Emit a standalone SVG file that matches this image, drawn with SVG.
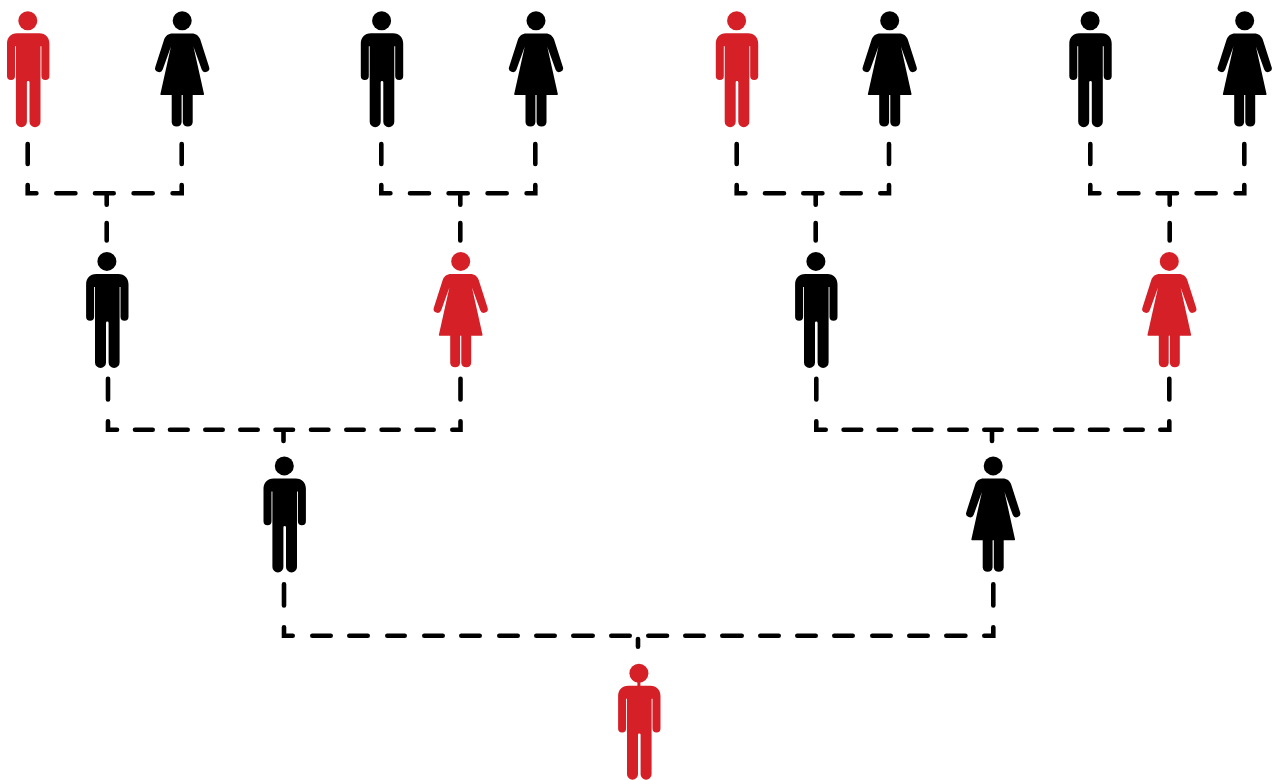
<svg xmlns="http://www.w3.org/2000/svg" xmlns:xlink="http://www.w3.org/1999/xlink" width="1278" height="780" viewBox="0 0 1278 780">
<style>
.red{fill:#d52027}.blk{fill:#000}
.c{fill:none;stroke:#000;stroke-width:4.6;stroke-linecap:round;stroke-linejoin:miter}
</style>
<defs>
<g id="man">
<circle cx="-0.4" cy="0" r="9.5"/>
<path d="M-11 12.5H11C17.5 12.5 21.2 16.8 21.2 23V55.4A4 4 0 0 1 13.2 55.4V25.5H12.3V101A5.5 5.5 0 0 1 1.3 101V61.5A1.3 1.3 0 0 0 -1.3 61.5V101A5.5 5.5 0 0 1 -12.3 101V25.5H-13.2V55.4A4 4 0 0 1 -21.2 55.4V23C-21.2 16.8 -17.500 12.5 -11 12.5Z"/>
</g>
<g id="woman">
<circle cx="0" cy="0" r="9.5"/>
<path d="M-9.500 12.7H9.500C14 12.700 16.500 15 18 18.500L26.800 46A3.900 3.900 0 0 1 19.500 48.900L11.300 26L21.800 73.300A0.800 0.800 0 0 1 21 74.300H10.500V101.500A5 5 0 0 1 0.600 101.500V74.300H-0.600V101.500A5 5 0 0 1 -10.500 101.500V74.300H-21A0.800 0.800 0 0 1 -21.800 73.300L-11.300 26L-19.500 48.900A3.900 3.900 0 0 1 -26.800 46L-18 18.500C-16.500 15 -14 12.700 -9.500 12.700Z"/>
</g>
</defs>
<g id="connectors">
<path class="c" d="M27.700 144V164M181.700 144V164M27.700 185V193.300H36.400M56.300 193.300H75.400M95 193.300H113.700M133.600 193.300H152.700M172.600 193.300H181.700V185M106.700 193.300V204.700M106.700 223V240.400"/>
<path class="c" d="M381.300 144V164M535.300 144V164M381.300 185V193.300H390.400M410 193.300H429M448.600 193.300H467.700M487.600 193.300H506.700M526.600 193.300H535.300V185M460.300 193.300V204.700M460.300 223V240.400"/>
<path class="c" d="M736.700 144V164M889 144V164M736.700 185V193.300H745.400M765 193.300H784M803.300 193.300H822.400M841.600 193.300H860.700M880.300 193.300H889V185M815.700 193.300V204.700M815.700 223V240.400"/>
<path class="c" d="M1090.300 144V164M1244.300 144V164M1090.300 185V193.300H1099.400M1119 193.300H1138.400M1157.600 193.300H1177M1196.600 193.300H1215.700M1235.600 193.300H1244.300V185M1169.700 193.300V204.700M1169.700 223V240.400"/>
<path class="c" d="M108 378.800V399.400M460.500 378.800V399.400M108 421.300V429.700H117M135 429.700H152.700M170 429.700H187.700M205.300 429.700H222.700M240.300 429.700H257.700M275.500 429.700H293M311 429.700H328.400M346.300 429.700H363.700M381.600 429.700H398.700M416.600 429.700H433.700M452.300 429.700H460.500V421.300M283.500 429.700V441"/>
<path class="c" d="M816.300 378.800V399.400M1169.300 378.800V399.400M816.300 421.300V429.700H825.700M843.600 429.700H861.200M878.600 429.700H896.200M914 429.700H931.400M949.300 429.700H966.700M984.300 429.700H1001.700M1019.300 429.700H1036.700M1055 429.700H1072.400M1090 429.700H1107.700M1125.300 429.700H1142.700M1160.300 429.700H1169.300V421.300M992 429.700V441"/>
<path class="c" d="M284 584.300V605.400M993.300 584.300V605.400M284 627.300V635.700H292.700M312.300 635.700H330.700M349.300 635.700H367.700M387.300 635.700H404.700M424.300 635.700H442.700M461.300 635.700H479.700M499.300 635.700H517.700M536.300 635.700H554.700M573.300 635.700H592.700M611.300 635.700H629.700M648.300 635.700H667M685.300 635.700H703.700M722.300 635.700H741.700M760.300 635.700H778.700M797.300 635.700H815.700M834.300 635.700H852.700M872.300 635.700H890.700M909.300 635.700H927.700M946.300 635.700H965.400M984.300 635.700H993.300V627.300M638 639V646.700"/>
</g>
<use id="p1" class="red" href="#man" x="28.200" y="20.700"/>
<use id="p2" class="blk" href="#woman" x="182.200" y="20.700"/>
<use id="p3" class="blk" href="#man" x="382" y="20.700"/>
<use id="p4" class="blk" href="#woman" x="536" y="20.700"/>
<use id="p5" class="red" href="#man" x="737" y="20.700"/>
<use id="p6" class="blk" href="#woman" x="889.700" y="20.700"/>
<use id="p7" class="blk" href="#man" x="1090.500" y="20.700"/>
<use id="p8" class="blk" href="#woman" x="1244.700" y="20.700"/>
<use id="p9" class="blk" href="#man" x="107.300" y="261.400"/>
<use id="p10" class="red" href="#woman" x="460.700" y="261.400"/>
<use id="p11" class="blk" href="#man" x="816.300" y="261.400"/>
<use id="p12" class="red" href="#woman" x="1169.300" y="261.400"/>
<use id="p13" class="blk" href="#man" x="284.700" y="465.900"/>
<use id="p14" class="blk" href="#woman" x="993.200" y="465.900"/>
<g id="p15" class="red"><use href="#man" x="639.300" y="673.200"/><rect x="637.400" y="680" width="3" height="7"/></g>
</svg>
